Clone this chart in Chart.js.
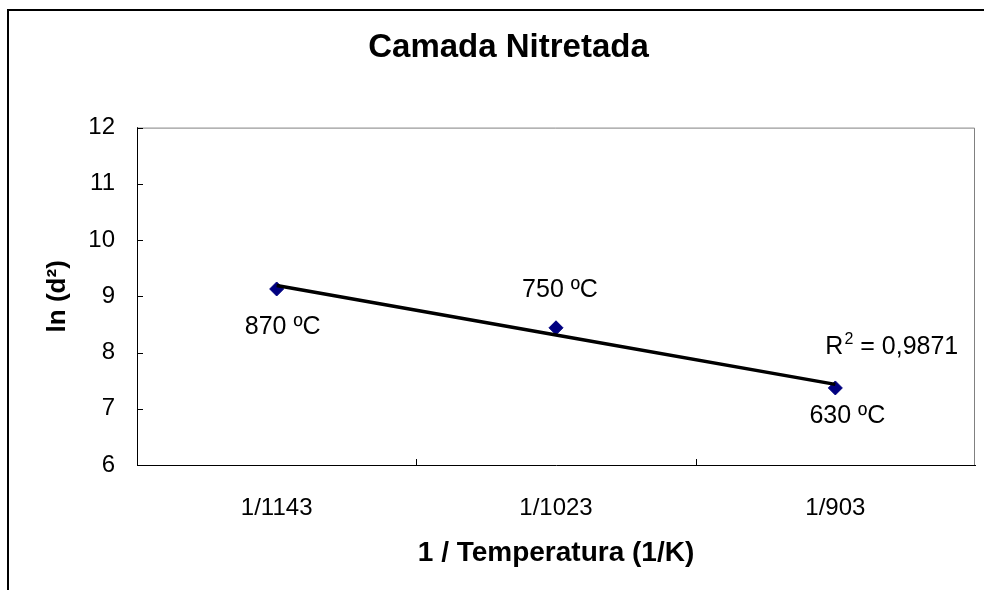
<!DOCTYPE html>
<html>
<head>
<meta charset="utf-8">
<script src="https://cdn.jsdelivr.net/npm/chart.js@4/dist/chart.umd.min.js"></script>
<style>
  html, body { margin: 0; padding: 0; background: #fff; }
  canvas { display: block; }
</style>
</head>
<body>
<canvas id="chart" width="984" height="590"></canvas>
<script>
const categories = ['1/1143', '1/1023', '1/903'];
const lnD2 = [9.13, 8.44, 7.37];
const pointLabels = ['870 ºC', '750 ºC', '630 ºC'];
const yTicks = [6, 7, 8, 9, 10, 11, 12];
const r2Value = '0,9871';

// least squares trend line over the category index
const n = lnD2.length;
const xs = lnD2.map((v, i) => i);
const mx = xs.reduce((a, b) => a + b, 0) / n;
const my = lnD2.reduce((a, b) => a + b, 0) / n;
let sxy = 0, sxx = 0;
xs.forEach((x, i) => { sxy += (x - mx) * (lnD2[i] - my); sxx += (x - mx) * (x - mx); });
const slope = sxy / sxx;
const trend = xs.map(x => my + slope * (x - mx));

const FONT = "'Liberation Sans', Arial, sans-serif";

const decor = {
  id: 'decor',
  beforeDraw(chart) {
    const ctx = chart.ctx;
    ctx.save();
    ctx.fillStyle = '#fff';
    ctx.fillRect(0, 0, chart.width, chart.height);
    // outer chart border
    ctx.strokeStyle = '#000';
    ctx.lineWidth = 2;
    ctx.beginPath();
    ctx.moveTo(8, chart.height);
    ctx.lineTo(8, 10);
    ctx.lineTo(chart.width, 10);
    ctx.stroke();
    ctx.restore();
  },
  beforeDatasetsDraw(chart) {
    const ctx = chart.ctx;
    const a = chart.chartArea;
    const y = chart.scales.y;
    ctx.save();
    // gray top/right of plot frame
    ctx.strokeStyle = '#808080';
    ctx.lineWidth = 1;
    ctx.beginPath();
    ctx.moveTo(a.left, a.top + 0.5);
    ctx.lineTo(a.right - 0.5, a.top + 0.5);
    ctx.lineTo(a.right - 0.5, a.bottom);
    ctx.stroke();
    // inward tick marks
    ctx.strokeStyle = '#000';
    ctx.beginPath();
    yTicks.forEach(v => {
      const py = Math.round(y.getPixelForValue(v)) + 0.5;
      ctx.moveTo(a.left, py);
      ctx.lineTo(a.left + 6, py);
    });
    const w = (a.right - a.left) / categories.length;
    for (let k = 1; k < categories.length; k++) {
      const px = Math.round(a.left + k * w) + 0.5;
      ctx.moveTo(px, a.bottom);
      ctx.lineTo(px, a.bottom - 6);
    }
    ctx.stroke();
    ctx.restore();
  },
  afterDatasetsDraw(chart) {
    const ctx = chart.ctx;
    const pts = chart.getDatasetMeta(1).data;
    const offs = [[6, 38], [4, -38], [12, 28]];
    ctx.save();
    ctx.fillStyle = '#000';
    ctx.font = '25px ' + FONT;
    ctx.textAlign = 'center';
    ctx.textBaseline = 'middle';
    pts.forEach((p, i) => {
      ctx.fillText(pointLabels[i], p.x + offs[i][0], p.y + offs[i][1]);
    });
    // R² = ... with a raised small 2
    const last = pts[pts.length - 1];
    let tx = last.x - 10;
    const ty = last.y - 34;
    ctx.textAlign = 'left';
    ctx.textBaseline = 'alphabetic';
    ctx.fillText('R', tx, ty);
    tx += ctx.measureText('R').width;
    ctx.font = '16px ' + FONT;
    ctx.fillText('2', tx + 1, ty - 10);
    tx += ctx.measureText('2').width + 1;
    ctx.font = '25px ' + FONT;
    ctx.fillText(' = ' + r2Value, tx, ty);
    ctx.restore();
  }
};

new Chart(document.getElementById('chart'), {
  type: 'line',
  data: {
    labels: categories,
    datasets: [
      {
        label: 'Linear',
        data: trend,
        borderColor: '#000',
        borderWidth: 3.5,
        pointRadius: 0,
        fill: false,
        tension: 0,
        order: 0
      },
      {
        label: 'ln (d²)',
        data: lnD2,
        showLine: false,
        pointStyle: 'rectRot',
        pointRadius: 7,
        pointBackgroundColor: '#000080',
        pointBorderColor: '#000080',
        order: 1
      }
    ]
  },
  options: {
    responsive: false,
    devicePixelRatio: 1,
    animation: false,
    layout: { padding: { left: 42, right: 9, top: 0, bottom: 0 } },
    plugins: {
      legend: { display: false },
      tooltip: { enabled: false },
      title: {
        display: true,
        text: 'Camada Nitretada',
        color: '#000',
        font: { family: FONT, size: 33, weight: 'bold' },
        padding: { top: 28, bottom: 60 }
      }
    },
    scales: {
      x: {
        offset: true,
        grid: { display: true, drawOnChartArea: false, drawTicks: false, offset: true },
        border: { color: '#000', width: 1 },
        ticks: { color: '#000', padding: 29, font: { family: FONT, size: 24 } },
        title: {
          display: true,
          text: '1 / Temperatura (1/K)',
          color: '#000',
          font: { family: FONT, size: 28, weight: 'bold' },
          padding: { top: 0, bottom: 20 }
        },
        afterFit(s) { s.height = 125; }
      },
      y: {
        min: 6,
        max: 12,
        grid: { drawOnChartArea: false, drawTicks: false },
        border: { color: '#000', width: 1 },
        ticks: { stepSize: 1, color: '#000', padding: 22, font: { family: FONT, size: 24 } },
        title: {
          display: true,
          text: 'ln (d²)',
          color: '#000',
          font: { family: FONT, size: 26, weight: 'bold' },
          padding: { top: 0, bottom: 0 }
        },
        afterFit(s) { s.width = 95; }
      }
    }
  },
  plugins: [decor]
});
</script>
</body>
</html>
